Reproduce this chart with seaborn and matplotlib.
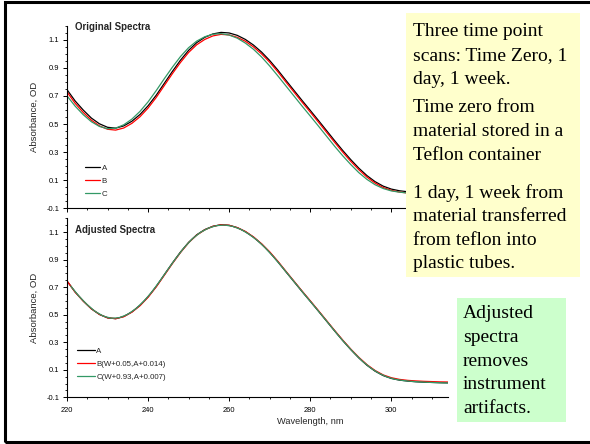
import numpy as np
import pandas as pd
import matplotlib
matplotlib.use("Agg")
import matplotlib.pyplot as plt
from matplotlib.ticker import MultipleLocator, FormatStrFormatter
from matplotlib.patches import Rectangle
import seaborn as sns

# wavelength grid (nm) and absorbance
wavelength = list(range(220, 316, 2))

scan_a = [0.745, 0.665, 0.600, 0.543, 0.502, 0.477, 0.471, 0.487, 0.520, 0.568,
          0.630, 0.705, 0.790, 0.875, 0.955, 1.025, 1.080, 1.118, 1.142, 1.153,
          1.149, 1.132, 1.103, 1.063, 1.013, 0.953, 0.885, 0.812, 0.740, 0.668,
          0.598, 0.527, 0.455, 0.383, 0.313, 0.247, 0.186, 0.133, 0.090, 0.058,
          0.037, 0.025, 0.018, 0.013, 0.010, 0.008, 0.006, 0.005]
scan_b = [0.729, 0.648, 0.583, 0.528, 0.487, 0.463, 0.457, 0.472, 0.505, 0.552,
          0.614, 0.689, 0.774, 0.859, 0.939, 1.010, 1.065, 1.103, 1.128, 1.139,
          1.135, 1.118, 1.090, 1.050, 1.000, 0.941, 0.873, 0.800, 0.728, 0.656,
          0.586, 0.515, 0.443, 0.371, 0.301, 0.235, 0.175, 0.122, 0.080, 0.048,
          0.028, 0.016, 0.009, 0.005, 0.002, 0.000, -0.002, -0.003]
scan_c = [0.701, 0.628, 0.567, 0.517, 0.483, 0.467, 0.471, 0.495, 0.535, 0.590,
          0.658, 0.738, 0.823, 0.905, 0.981, 1.044, 1.091, 1.122, 1.140, 1.144,
          1.134, 1.112, 1.077, 1.033, 0.978, 0.914, 0.844, 0.772, 0.700, 0.628,
          0.558, 0.487, 0.415, 0.343, 0.275, 0.212, 0.154, 0.106, 0.068, 0.041,
          0.024, 0.015, 0.009, 0.005, 0.002, 0.000, -0.002, -0.003]

# adjustments quoted in the legend (wavelength shift, absorbance offset)
shift_b, offset_b = 0.05, 0.014
shift_c, offset_c = 0.93, 0.007

labels_top = ["A", "B", "C"]
labels_bottom = ["A", "B(W+0.05,A+0.014)", "C(W+0.93,A+0.007)"]
line_colors = ["#000000", "#FF0000", "#339966"]

notes_yellow = [
    ["Three time point", "scans: Time Zero, 1", "day, 1 week."],
    ["Time zero from", "material stored in a", "Teflon container"],
    ["1 day, 1 week from", "material transferred", "from teflon into", "plastic tubes."],
]
notes_green = ["Adjusted", "spectra", "removes", "instrument", "artifacts."]

sns.set_style("ticks")
plt.rcParams['font.family'] = ['Liberation Sans', 'DejaVu Sans']
plt.rcParams['axes.unicode_minus'] = False

W, H = 590, 444
fig = plt.figure(figsize=(W / 100, H / 100), dpi=100)


def px(x0, y0, x1, y1):
    return [x0 / W, 1 - y1 / H, (x1 - x0) / W, (y1 - y0) / H]


ax_top = fig.add_axes(px(67, 25.8, 448, 208.3))
ax_bot = fig.add_axes(px(67, 218.3, 448, 397.3))

wl = np.array(wavelength, dtype=float)
top_df = pd.DataFrame({
    "wl": np.concatenate([wl, wl, wl]),
    "od": np.concatenate([scan_a, scan_b, scan_c]),
    "scan": np.repeat(labels_top, len(wl)),
})
bot_df = pd.DataFrame({
    "wl": np.concatenate([wl, wl + shift_b, wl + shift_c]),
    "od": np.concatenate([scan_a, np.array(scan_b) + offset_b, np.array(scan_c) + offset_c]),
    "scan": np.repeat(labels_bottom, len(wl)),
})

sns.lineplot(data=top_df, x="wl", y="od", hue="scan", hue_order=labels_top,
             palette=dict(zip(labels_top, line_colors)), linewidth=0.9, ax=ax_top)
sns.lineplot(data=bot_df, x="wl", y="od", hue="scan", hue_order=labels_bottom,
             palette=dict(zip(labels_bottom, line_colors)), linewidth=0.9, ax=ax_bot)

for ax, title, ty in [(ax_top, "Original Spectra", 0.995), (ax_bot, "Adjusted Spectra", 0.935)]:
    ax.set_xlim(220, 314)
    ax.set_ylim(-0.1, 1.2)
    ax.set_yticks(np.arange(-0.1, 1.15, 0.2))
    ax.yaxis.set_major_formatter(FormatStrFormatter('%.1f'))
    ax.yaxis.set_minor_locator(MultipleLocator(0.05))
    ax.set_xticks([220, 240, 260, 280, 300])
    ax.xaxis.set_minor_locator(MultipleLocator(5))
    ax.tick_params(which='major', direction='out', length=3, width=0.7,
                   labelsize=5.4, colors='black', pad=2.5)
    ax.tick_params(which='minor', direction='out', length=1.6, width=0.6, colors='black')
    for s in ['top', 'right']:
        ax.spines[s].set_visible(False)
    for s in ['left', 'bottom']:
        ax.spines[s].set_linewidth(0.8)
        ax.spines[s].set_color('black')
    ax.set_ylabel("Absorbance, OD", fontsize=6.8)
    ax.yaxis.set_label_coords(-0.075, 0.5)
    ax.text(0.021, ty, title, transform=ax.transAxes, fontsize=7, fontweight='bold',
            va='center', ha='left')

ax_top.set_xlabel("")
ax_top.tick_params(axis='x', which='both', labelbottom=False)
ax_bot.tick_params(axis='x', which='major', pad=4)
ax_bot.set_xlabel("Wavelength, nm", fontsize=6.7)
ax_bot.xaxis.set_label_coords(0.638, -0.11)

sns.move_legend(ax_top, "upper left", bbox_to_anchor=(0.047, 0.24), frameon=False,
                title=None, fontsize=5.7, handlelength=1.9, handletextpad=0.2,
                labelspacing=0.7, borderpad=0, borderaxespad=0)
sns.move_legend(ax_bot, "upper left", bbox_to_anchor=(0.026, 0.28), frameon=False,
                title=None, fontsize=5.7, handlelength=2.3, handletextpad=0.15,
                labelspacing=0.7, borderpad=0, borderaxespad=0)

# note boxes
fig.patches.append(Rectangle((406 / W, 1 - 277 / H), 174 / W, 264 / H,
                             transform=fig.transFigure, facecolor='#FFFFCC',
                             edgecolor='none', zorder=0))
fig.patches.append(Rectangle((457 / W, 1 - 422 / H), 109 / W, 124 / H,
                             transform=fig.transFigure, facecolor='#CCFFCC',
                             edgecolor='none', zorder=0))

serif = ['Liberation Serif', 'DejaVu Serif']
line_gap = 23.5
para_starts = [32, 108, 193]
for start, para in zip(para_starts, notes_yellow):
    for i, line in enumerate(para):
        fig.text(413 / W, 1 - (start + i * line_gap) / H, line, fontsize=14,
                 family=serif, va='center', ha='left', color='black')
for i, line in enumerate(notes_green):
    fig.text(463 / W, 1 - (314 + i * line_gap) / H, line, fontsize=14,
             family=serif, va='center', ha='left', color='black')

# slide frame
fig.patches.append(Rectangle((5 / W, 2.5 / H), 1.2, 1 - 5 / H,
                             transform=fig.transFigure, fill=False,
                             edgecolor='black', linewidth=2.2))

fig.savefig("out.png", dpi=100)
